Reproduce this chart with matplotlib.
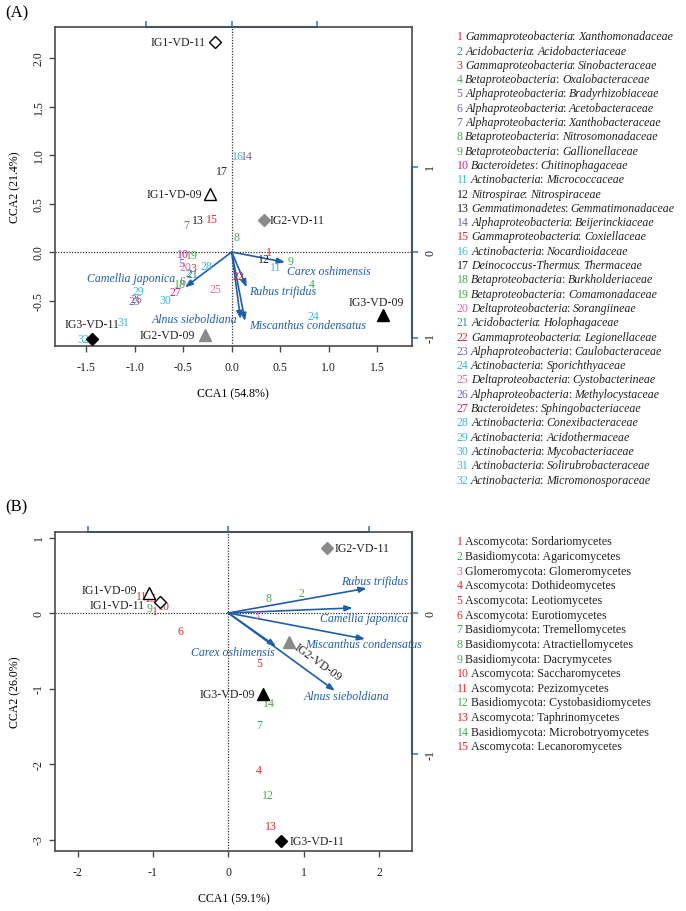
import matplotlib
matplotlib.use('Agg')
import matplotlib.pyplot as plt

plt.rcParams['font.family'] = ['Liberation Serif', 'DejaVu Serif']

W, H, DPI = 686, 912, 100

# ---------------- Panel A (bacteria) data ----------------
a_sites = ['IG1-VD-11', 'IG1-VD-09', 'IG2-VD-11', 'IG2-VD-09', 'IG3-VD-11', 'IG3-VD-09']
a_site_x = [-0.17, -0.22, 0.33, -0.275, -1.44, 1.56]
a_site_y = [2.17, 0.60, 0.33, -0.86, -0.90, -0.65]

a_phylum = ['Gammaproteobacteria', 'Acidobacteria', 'Gammaproteobacteria', 'Betaproteobacteria',
            'Alphaproteobacteria', 'Alphaproteobacteria', 'Alphaproteobacteria', 'Betaproteobacteria',
            'Betaproteobacteria', 'Bacteroidetes', 'Actinobacteria', 'Nitrospirae',
            'Gemmatimonadetes', 'Alphaproteobacteria', 'Gammaproteobacteria', 'Actinobacteria',
            'Deinococcus-Thermus', 'Betaproteobacteria', 'Betaproteobacteria', 'Deltaproteobacteria',
            'Acidobacteria', 'Gammaproteobacteria', 'Alphaproteobacteria', 'Actinobacteria',
            'Deltaproteobacteria', 'Alphaproteobacteria', 'Bacteroidetes', 'Actinobacteria',
            'Actinobacteria', 'Actinobacteria', 'Actinobacteria', 'Actinobacteria']
a_family = ['Xanthomonadaceae', 'Acidobacteriaceae', 'Sinobacteraceae', 'Oxalobacteraceae',
            'Bradyrhizobiaceae', 'Acetobacteraceae', 'Xanthobacteraceae', 'Nitrosomonadaceae',
            'Gallionellaceae', 'Chitinophagaceae', 'Micrococcaceae', 'Nitrospiraceae',
            'Gemmatimonadaceae', 'Beijerinckiaceae', 'Coxiellaceae', 'Nocardioidaceae',
            'Thermaceae', 'Burkholderiaceae', 'Comamonadaceae', 'Sorangiineae',
            'Holophagaceae', 'Legionellaceae', 'Caulobacteraceae', 'Sporichthyaceae',
            'Cystobacterineae', 'Methylocystaceae', 'Sphingobacteriaceae', 'Conexibacteraceae',
            'Acidothermaceae', 'Mycobacteriaceae', 'Solirubrobacteraceae', 'Micromonosporaceae']
a_sp_x = [0.38, -0.45, -0.40, 0.83, -0.52, -0.505, -0.47, 0.045, 0.61, -0.505, 0.45, 0.33,
          -0.35, 0.16, -0.20, 0.06, -0.10, -0.53, -0.41, -0.48, -0.40, 0.07, -1.00, 0.84,
          -0.17, -0.98, -0.585, -0.26, -0.96, -0.68, -1.12, -1.53]
a_sp_y = [0.00, -0.22, -0.16, -0.33, -0.11, -0.30, 0.28, 0.15, -0.09, -0.02, -0.15, -0.07,
          0.33, 0.99, 0.34, 0.99, 0.83, -0.33, -0.03, -0.15, -0.23, -0.25, -0.51, -0.66,
          -0.38, -0.48, -0.415, -0.14, -0.40, -0.49, -0.72, -0.90]

a_env = ['Carex oshimensis', 'Rubus trifidus', 'Miscanthus condensatus', 'Alnus sieboldiana',
         'Camellia japonica']
a_env_x = [0.623, 0.175, 0.156, 0.103, -0.546]
a_env_y = [-0.120, -0.413, -0.807, -0.784, -0.413]
a_axis_labels = ('CCA1 (54.8%)', 'CCA2 (21.4%)')
a_xticks = [-1.5, -1.0, -0.5, 0.0, 0.5, 1.0, 1.5]
a_xticklabels = ['-1.5', '-1.0', '-0.5', '0.0', '0.5', '1.0', '1.5']
a_yticks = [-0.5, 0.0, 0.5, 1.0, 1.5, 2.0]
a_yticklabels = ['-0.5', '0.0', '0.5', '1.0', '1.5', '2.0']

# ---------------- Panel B (fungi) data ----------------
b_sites = ['IG2-VD-11', 'IG1-VD-09', 'IG1-VD-11', 'IG2-VD-09', 'IG3-VD-09', 'IG3-VD-11']
b_site_x = [1.305, -1.05, -0.91, 0.81, 0.465, 0.695]
b_site_y = [0.857, 0.26, 0.15, -0.39, -1.07, -3.02]

b_phylum = ['Ascomycota', 'Basidiomycota', 'Glomeromycota', 'Ascomycota', 'Ascomycota',
            'Ascomycota', 'Basidiomycota', 'Basidiomycota', 'Basidiomycota', 'Ascomycota',
            'Ascomycota', 'Basidiomycota', 'Ascomycota', 'Basidiomycota', 'Ascomycota']
b_class = ['Sordariomycetes', 'Agaricomycetes', 'Glomeromycetes', 'Dothideomycetes',
           'Leotiomycetes', 'Eurotiomycetes', 'Tremellomycetes', 'Atractiellomycetes',
           'Dacrymycetes', 'Saccharomycetes', 'Pezizomycetes', 'Cystobasidiomycetes',
           'Taphrinomycetes', 'Microbotryomycetes', 'Lecanoromycetes']
b_sp_x = [-0.97, 0.965, 0.37, 0.41, 0.41, -0.63, 0.41, 0.53, -1.04, -0.85, -1.15, 0.52,
          0.56, 0.545, -1.02]
b_sp_y = [0.03, 0.27, -0.03, -2.08, -0.66, -0.24, -1.48, 0.195, 0.06, 0.09, 0.23, -2.41,
          -2.82, -1.19, 0.20]

b_env = ['Rubus trifidus', 'Camellia japonica', 'Miscanthus condensatus', 'Alnus sieboldiana',
         'Carex oshimensis']
b_env_x = [0.985, 0.885, 0.973, 0.759, 0.340]
b_env_y = [0.176, 0.036, -0.185, -0.553, -0.237]
b_axis_labels = ('CCA1 (59.1%)', 'CCA2 (26.0%)')
b_xticks = [-2, -1, 0, 1, 2]
b_xticklabels = ['-2', '-1', '0', '1', '2']
b_yticks = [-3, -2, -1, 0, 1]
b_yticklabels = ['-3', '-2', '-1', '0', '1']

env_ticks = [-1, 0, 1]
env_ticklabels = ['-1', '0', '1']

# ---------------- Styles ----------------
RED, GREEN, PURPLE, TEAL = '#e8262b', '#3fae49', '#7a62ae', '#2f9596'
CYAN, MAGENTA, PINK, BLACK = '#3cb8d9', '#cf1f8c', '#e46ba6', '#222222'
ARROW, AXBLUE, GRAY, SPINE = '#1f5ea8', '#3f82c4', '#8a8a8a', '#4a4a4a'
phylum_color = {
    'Gammaproteobacteria': RED, 'Acidobacteria': TEAL, 'Betaproteobacteria': GREEN,
    'Alphaproteobacteria': PURPLE, 'Bacteroidetes': MAGENTA, 'Actinobacteria': CYAN,
    'Nitrospirae': BLACK, 'Gemmatimonadetes': BLACK, 'Deinococcus-Thermus': BLACK,
    'Deltaproteobacteria': PINK,
    'Ascomycota': RED, 'Basidiomycota': GREEN, 'Glomeromycota': '#e060b0',
}
site_marker = {
    'IG1-VD-11': ('D', 'white', 'black', 6.5), 'IG1-VD-09': ('^', 'white', 'black', 9),
    'IG2-VD-11': ('D', GRAY, GRAY, 6.5), 'IG2-VD-09': ('^', GRAY, GRAY, 9),
    'IG3-VD-11': ('D', 'black', 'black', 6.5), 'IG3-VD-09': ('^', 'black', 'black', 9),
}
FS = 8.6
PT = 0.72  # points per pixel at 100 dpi

a_site_lab = {'IG1-VD-11': ('right', -9, 0, 0), 'IG1-VD-09': ('right', -8, 0, 0),
              'IG2-VD-11': ('left', 6, 0, 0), 'IG2-VD-09': ('right', -10, 0, 0),
              'IG3-VD-11': ('center', 0, 15, 0), 'IG3-VD-09': ('center', -7, 13, 0)}
b_site_lab = {'IG2-VD-11': ('left', 8, 0, 0), 'IG1-VD-09': ('right', -12, 3.5, 0),
              'IG1-VD-11': ('right', -15, -3, 0), 'IG2-VD-09': ('left', 6, -3, -36),
              'IG3-VD-09': ('right', -8, 0, 0), 'IG3-VD-11': ('left', 9, 0, 0)}
a_env_lab = {'Carex oshimensis': ('left', 2, -8.5), 'Rubus trifidus': ('left', 2.6, -3.4),
             'Miscanthus condensatus': ('left', 4, -4), 'Alnus sieboldiana': ('right', -3, 0),
             'Camellia japonica': ('right', -10, 9)}
b_env_lab = {'Rubus trifidus': ('center', 8, 7.6), 'Camellia japonica': ('center', 11, -10.3),
             'Miscanthus condensatus': ('center', -1, -5), 'Alnus sieboldiana': ('center', 12, -5),
             'Carex oshimensis': ('right', -1, -6)}

fig = plt.figure(figsize=(W / DPI, H / DPI), dpi=DPI)


def px_axes(left, top, right, bottom):
    return fig.add_axes([left / W, 1 - bottom / H, (right - left) / W, (bottom - top) / H])


def draw_panel(ax, xlim, ylim, mult, sites, sx, sy, site_lab, phyla, spx, spy,
               env, ex, ey, env_lab, xticks, xtl, yticks, ytl, ybound_top):
    ax.set_xlim(*xlim)
    ax.set_ylim(*ylim)
    for s in ax.spines.values():
        s.set_color(SPINE)
        s.set_linewidth(1.2)
    ax.set_xticks(xticks, xtl)
    ax.set_yticks(yticks, ytl, rotation=90, va='center')
    ax.tick_params(axis='both', direction='out', length=4.5, width=1.0, color=SPINE,
                   labelsize=FS, labelcolor=BLACK)
    ax.tick_params(axis='x', pad=6.2)
    ax.tick_params(axis='y', pad=2.8)
    ax.axhline(0, color='#333333', lw=0.9, ls=(0, (1, 1.2)), zorder=1)
    ax.axvline(0, color='#333333', lw=0.9, ls=(0, (1, 1.2)), zorder=1)

    # environmental arrows
    for name, x, y in zip(env, ex, ey):
        tx, ty = x * mult, y * mult
        ax.annotate('', xy=(tx, ty), xytext=(0, 0),
                    arrowprops=dict(arrowstyle='-|>,head_length=0.45,head_width=0.17',
                                    color=ARROW, lw=1.2, shrinkA=0, shrinkB=0), zorder=3)
        ha, dx, dy = env_lab[name]
        ax.annotate(name, xy=(tx, ty), xytext=(dx * PT, dy * PT), textcoords='offset points',
                    ha=ha, va='center', style='italic', color=ARROW, fontsize=FS, zorder=4)

    # species numbers
    for i, (x, y) in enumerate(zip(spx, spy)):
        ax.text(x, y, str(i + 1), color=phylum_color[phyla[i]], ha='center', va='center',
                fontsize=FS, zorder=5)

    # sites
    for name, x, y in zip(sites, sx, sy):
        m, fc, ec, ms = site_marker[name]
        ax.plot([x], [y], marker=m, ms=ms, mfc=fc, mec=ec, mew=1.0, ls='none', zorder=6)
        ha, dx, dy, rot = site_lab[name]
        ax.annotate(name, xy=(x, y), xytext=(dx * PT, dy * PT), textcoords='offset points',
                    ha=ha, va='center', fontsize=FS, color=BLACK, rotation=rot,
                    rotation_mode='anchor', zorder=6)

    # secondary (biplot) axes
    top = ax.secondary_xaxis('top', functions=(lambda v: v / mult, lambda v: v * mult))
    top.set_xticks(env_ticks)
    top.tick_params(axis='x', direction='out', length=4.5, width=1.2, color=AXBLUE,
                    labeltop=False)
    top.spines['top'].set_color(AXBLUE)
    top.spines['top'].set_linewidth(1.5)
    top.spines['top'].set_bounds(-1, 1)
    right = ax.secondary_yaxis('right', functions=(lambda v: v / mult, lambda v: v * mult))
    vis = [t for t in env_ticks if t * mult <= ylim[1] and t * mult >= ylim[0]]
    right.set_yticks(vis, [env_ticklabels[env_ticks.index(t)] for t in vis], rotation=90,
                     va='center')
    right.tick_params(axis='y', direction='out', length=4.5, width=1.2, color=AXBLUE,
                      labelsize=FS, labelcolor=BLACK, pad=4.5)
    right.spines['right'].set_color(AXBLUE)
    right.spines['right'].set_linewidth(1.5)
    right.spines['right'].set_bounds(-1, ybound_top)


# ---- Panel A ----
axA = px_axes(55, 28, 411.7, 347)
multA = 85.5 / 97.0
draw_panel(axA, ((55 - 231.7) / 97, (411.7 - 231.7) / 97), ((253 - 347) / 97, (253 - 28) / 97),
           multA, a_sites, a_site_x, a_site_y, a_site_lab, a_phylum, a_sp_x, a_sp_y,
           a_env, a_env_x, a_env_y, a_env_lab, a_xticks, a_xticklabels, a_yticks,
           a_yticklabels, 1)

# ---- Panel B ----
axB = px_axes(55, 533, 412.3, 852)
multB = 140.5 / 75.4
ylimB = ((614 - 852) / 75.5, (614 - 533) / 75.5)
draw_panel(axB, ((55 - 228.3) / 75.4, (412.3 - 228.3) / 75.4), ylimB,
           multB, b_sites, b_site_x, b_site_y, b_site_lab, b_phylum, b_sp_x, b_sp_y,
           b_env, b_env_x, b_env_y, b_env_lab, b_xticks, b_xticklabels, b_yticks,
           b_yticklabels, min(1, ylimB[1] / multB))


def ftext(x, y, s, **kw):
    return fig.text(x / W, 1 - y / H, s, **kw)


ftext(5, 13, '(A)', fontsize=12, ha='left', va='center')
ftext(5, 507, '(B)', fontsize=12, ha='left', va='center')
ftext(233.3, 394, a_axis_labels[0], fontsize=FS, ha='center', va='center')
ftext(15, 187.5, a_axis_labels[1], fontsize=FS, ha='center', va='center', rotation=90)
ftext(233.6, 899, b_axis_labels[0], fontsize=FS, ha='center', va='center')
ftext(15, 692.5, b_axis_labels[1], fontsize=FS, ha='center', va='center', rotation=90)

# ---- Legends ----
renderer = fig.canvas.get_renderer()


def legend_line(x, yc, pieces, size):
    yb = yc + 0.30 * size / PT
    for s, style, color, gap in pieces:
        t = fig.text(x / W, 1 - yb / H, s, fontsize=size, style=style, color=color,
                     ha='left', va='baseline')
        x = t.get_window_extent(renderer=renderer).x1 + gap


LA = 8.6
for i, (ph, fam) in enumerate(zip(a_phylum, a_family)):
    legend_line(456.7, 36.7 + 14.3 * i,
                [(str(i + 1), 'normal', phylum_color[ph], 2.6),
                 (ph, 'italic', BLACK, -1.2),
                 (':', 'normal', BLACK, 2.6),
                 (fam, 'italic', BLACK, 0)], LA)

LB = 8.6
for i, (ph, cl) in enumerate(zip(b_phylum, b_class)):
    legend_line(456.7, 541.8 + 14.64 * i,
                [(str(i + 1), 'normal', phylum_color[ph], 2.6),
                 (ph + ': ' + cl, 'normal', BLACK, 0)], LB)

fig.savefig('out.png', dpi=DPI)
